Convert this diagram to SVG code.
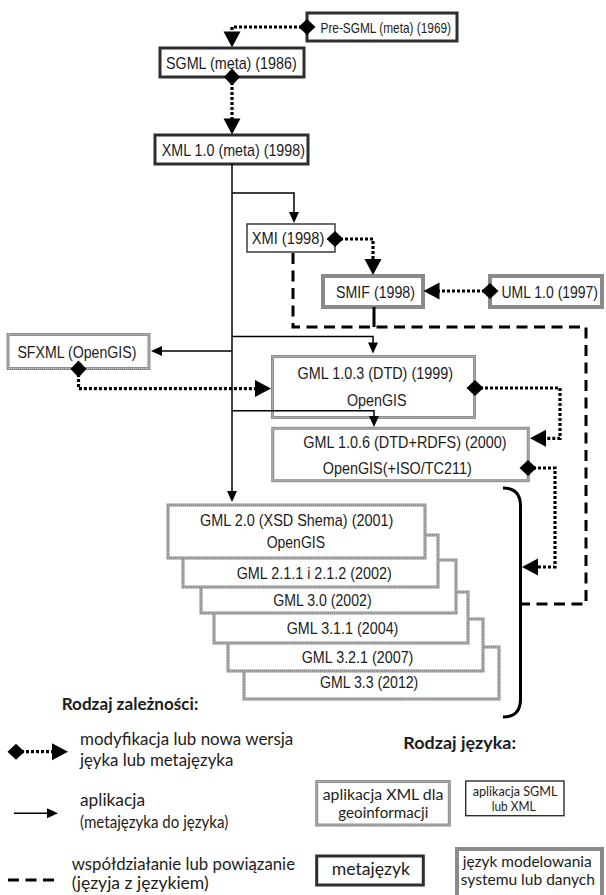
<svg xmlns="http://www.w3.org/2000/svg" width="606" height="895" viewBox="0 0 606 895">
  <style>
    .meta { fill: #fff; stroke: #2e2e2e; stroke-width: 3; }
    .app { fill: #fff; stroke: #2e2e2e; stroke-width: 1.4; }
    .geo { fill: #fff; stroke: #8e8e8e; stroke-width: 3; }
    .geo-tex { fill: none; stroke: #cfcfcf; stroke-width: 1; stroke-dasharray: 1 1; }
    .model { fill: #fff; stroke: #8a8a8a; stroke-width: 4; }
    .lbl { font-family: "Liberation Sans", Arial, sans-serif; font-size: 17px; fill: #1c1c1c; }
    .sm { font-size: 14.5px; }
    .leg { font-family: Lato, "Open Sans", sans-serif; font-size: 17px; fill: #1c1c1c; }
    .hd { font-weight: bold; }
    .k15 { font-size: 15.5px; }
    .k14 { font-size: 15px; }
    .k13 { font-size: 13.5px; }
    .dot { fill: none; stroke: #000; stroke-width: 3.2; stroke-dasharray: 3 2; }
    .sol { fill: none; stroke: #000; stroke-width: 1.5; }
    .dsh { fill: none; stroke: #000; stroke-width: 3; stroke-dasharray: 11 6.5; }
    .mod { marker-start: url(#dia); marker-end: url(#arrD); }
    .use { marker-end: url(#arrS); }
  </style>
  <defs>
    <marker id="dia" markerUnits="userSpaceOnUse" markerWidth="18" markerHeight="18" refX="8.5" refY="8" orient="auto" overflow="visible">
      <path d="M0,8 L8.5,0 L17,8 L8.5,16 Z" fill="#000"/>
    </marker>
    <marker id="arrD" markerUnits="userSpaceOnUse" markerWidth="18" markerHeight="18" refX="2" refY="8.5" orient="auto" overflow="visible">
      <path d="M0,0 L16,8.5 L0,17 Z" fill="#000"/>
    </marker>
    <marker id="arrS" markerUnits="userSpaceOnUse" markerWidth="12" markerHeight="12" refX="1" refY="5" orient="auto" overflow="visible">
      <path d="M0,0 L11,5 L0,10 Z" fill="#000"/>
    </marker>
  </defs>

  <!-- metalanguages -->
  <g id="n-presgml">
    <rect class="meta" x="307" y="13" width="150" height="28"/>
    <text class="lbl sm" x="320.5" y="32.5" textLength="130.5" lengthAdjust="spacingAndGlyphs">Pre-SGML (meta) (1969)</text>
  </g>
  <g id="n-sgml">
    <rect class="meta" x="160" y="48" width="144" height="29"/>
    <text class="lbl" x="166" y="68.5" textLength="130.7" lengthAdjust="spacingAndGlyphs">SGML (meta) (1986)</text>
  </g>
  <g id="n-xml">
    <rect class="meta" x="155" y="135" width="153" height="29"/>
    <text class="lbl" x="161.7" y="155.5" textLength="143.3" lengthAdjust="spacingAndGlyphs">XML 1.0 (meta) (1998)</text>
  </g>

  <!-- SGML / XML applications -->
  <g id="n-xmi">
    <rect class="app" x="247" y="224" width="88" height="28"/>
    <text class="lbl" x="251.7" y="244" textLength="72.6" lengthAdjust="spacingAndGlyphs">XMI (1998)</text>
  </g>

  <!-- modelling languages -->
  <g id="n-smif">
    <rect class="model" x="323" y="276" width="100" height="31"/>
    <text class="lbl" x="336" y="297.5" textLength="79" lengthAdjust="spacingAndGlyphs">SMIF (1998)</text>
  </g>
  <g id="n-uml">
    <rect class="model" x="490" y="276" width="112" height="31"/>
    <text class="lbl" x="501.5" y="297.5" textLength="96.5" lengthAdjust="spacingAndGlyphs">UML 1.0 (1997)</text>
  </g>

  <!-- XML applications for geoinformation -->
  <g id="n-sfxml">
    <rect class="geo" x="8" y="334.5" width="141" height="34"/>
    <rect class="geo-tex" x="8" y="334.5" width="141" height="34"/>
    <text class="lbl" x="17.4" y="357.5" textLength="119" lengthAdjust="spacingAndGlyphs">SFXML (OpenGIS)</text>
  </g>
  <g id="n-gml103">
    <rect class="geo" x="272.5" y="356.5" width="202" height="61"/>
    <rect class="geo-tex" x="272.5" y="356.5" width="202" height="61"/>
    <text class="lbl" x="297.6" y="379" textLength="155.4" lengthAdjust="spacingAndGlyphs">GML 1.0.3 (DTD) (1999)</text>
    <text class="lbl" x="347" y="405.5" textLength="59.6" lengthAdjust="spacingAndGlyphs">OpenGIS</text>
  </g>
  <g id="n-gml106">
    <rect class="geo" x="272.7" y="428.3" width="255.6" height="52.4"/>
    <rect class="geo-tex" x="272.7" y="428.3" width="255.6" height="52.4"/>
    <text class="lbl" x="303.3" y="447.7" textLength="203.3" lengthAdjust="spacingAndGlyphs">GML 1.0.6 (DTD+RDFS) (2000)</text>
    <text class="lbl" x="322.7" y="474.3" textLength="149" lengthAdjust="spacingAndGlyphs">OpenGIS(+ISO/TC211)</text>
  </g>

  <!-- GML version stack, back to front -->
  <g id="n-gml33">
    <rect class="geo" x="244" y="647" width="255" height="52"/>
    <rect class="geo-tex" x="244" y="647" width="255" height="52"/>
    <text class="lbl" x="320" y="688" textLength="98.3" lengthAdjust="spacingAndGlyphs">GML 3.3 (2012)</text>
  </g>
  <g id="n-gml321">
    <rect class="geo" x="228" y="619" width="255" height="52"/>
    <rect class="geo-tex" x="228" y="619" width="255" height="52"/>
    <text class="lbl" x="301.7" y="662.7" textLength="111.7" lengthAdjust="spacingAndGlyphs">GML 3.2.1 (2007)</text>
  </g>
  <g id="n-gml311">
    <rect class="geo" x="214" y="592" width="254" height="51"/>
    <rect class="geo-tex" x="214" y="592" width="254" height="51"/>
    <text class="lbl" x="286.7" y="634.3" textLength="111.7" lengthAdjust="spacingAndGlyphs">GML 3.1.1 (2004)</text>
  </g>
  <g id="n-gml30">
    <rect class="geo" x="201" y="560" width="255" height="53"/>
    <rect class="geo-tex" x="201" y="560" width="255" height="53"/>
    <text class="lbl" x="273.3" y="606" textLength="98.3" lengthAdjust="spacingAndGlyphs">GML 3.0 (2002)</text>
  </g>
  <g id="n-gml211">
    <rect class="geo" x="183" y="535" width="255" height="52"/>
    <rect class="geo-tex" x="183" y="535" width="255" height="52"/>
    <text class="lbl" x="236.7" y="579.3" textLength="155" lengthAdjust="spacingAndGlyphs">GML 2.1.1 i 2.1.2 (2002)</text>
  </g>
  <g id="n-gml20">
    <rect class="geo" x="168" y="505" width="257" height="53"/>
    <rect class="geo-tex" x="168" y="505" width="257" height="53"/>
    <text class="lbl" x="200" y="526" textLength="193.3" lengthAdjust="spacingAndGlyphs">GML 2.0 (XSD Shema) (2001)</text>
    <text class="lbl" x="266.7" y="547.7" textLength="58.3" lengthAdjust="spacingAndGlyphs">OpenGIS</text>
  </g>

  <!-- connectors -->
  <g id="connectors">
    <!-- application: metalanguage to language -->
    <path class="sol use" d="M232,164 V492"/>
    <path class="sol use" d="M232,193 H294 V213"/>
    <path class="sol use" d="M232,336.5 H373 V343.5"/>
    <path class="sol use" d="M232,351 H161"/>
    <path class="sol use" d="M232,410.7 H374 V417"/>

    <!-- modification / new version -->
    <path class="dot mod" d="M307,27 H232 V33.5"/>
    <path class="dot mod" d="M232,77 V120.5"/>
    <path class="dot mod" d="M335,239 H373 V261"/>
    <path class="dot mod" d="M490,291 H437.5"/>
    <path class="dot mod" d="M78.5,369 V388.6 H257"/>
    <path class="dot mod" d="M475,388 H560 V438.3 H544"/>
    <path class="dot mod" d="M528,468 H555 V567 H536"/>

    <!-- interoperation -->
    <path class="dsh" d="M293,253 V327 H586 V604 H521"/>
    <path fill="none" stroke="#000" stroke-width="3" d="M374,307 V327"/>

    <!-- bracket grouping GML 2.0 - 3.3 -->
    <path fill="none" stroke="#000" stroke-width="3" d="M503,488 Q520.5,488 520.5,506 V699 Q520.5,717 503,717"/>
  </g>

  <!-- legend -->
  <g id="legend-relations">
    <text class="leg hd" x="61.7" y="709.5" textLength="136.6" lengthAdjust="spacingAndGlyphs">Rodzaj zależności:</text>
    <path class="dot mod" d="M16,751.7 H54"/>
    <text class="leg" x="80" y="744.5" textLength="213.3" lengthAdjust="spacingAndGlyphs">modyfikacja lub nowa wersja</text>
    <text class="leg" x="80" y="765.5" textLength="153.3" lengthAdjust="spacingAndGlyphs">jęyka lub metajęzyka</text>
    <path class="sol use" d="M14,813.3 H48"/>
    <text class="leg" x="80" y="806" textLength="65" lengthAdjust="spacingAndGlyphs">aplikacja</text>
    <text class="leg" x="80" y="828" textLength="148.3" lengthAdjust="spacingAndGlyphs">(metajęzyka do języka)</text>
    <path class="dsh" d="M8,880 H54"/>
    <text class="leg" x="71.7" y="870" textLength="223.3" lengthAdjust="spacingAndGlyphs">współdziałanie lub powiązanie</text>
    <text class="leg" x="71.7" y="889" textLength="137" lengthAdjust="spacingAndGlyphs">(języja z językiem)</text>
  </g>
  <g id="legend-kinds">
    <text class="leg hd" x="403.3" y="749" textLength="112.7" lengthAdjust="spacingAndGlyphs">Rodzaj języka:</text>
    <g id="key-geo">
      <rect class="geo" x="316.7" y="781.5" width="132.6" height="43.5"/>
      <rect class="geo-tex" x="316.7" y="781.5" width="132.6" height="43.5"/>
      <text class="leg k15" x="322.7" y="800" textLength="120.6" lengthAdjust="spacingAndGlyphs">aplikacja XML dla</text>
      <text class="leg k15" x="338.3" y="817.5" textLength="90" lengthAdjust="spacingAndGlyphs">geoinformacji</text>
    </g>
    <g id="key-app">
      <rect class="app" x="465.7" y="781" width="98.3" height="34.7"/>
      <text class="leg k13" x="472.7" y="796" textLength="84.7" lengthAdjust="spacingAndGlyphs">aplikacja SGML</text>
      <text class="leg k13" x="491.7" y="810.5" textLength="44" lengthAdjust="spacingAndGlyphs">lub XML</text>
    </g>
    <g id="key-meta">
      <rect class="meta" x="316.7" y="856" width="106.6" height="29"/>
      <text class="leg" x="331.7" y="875" textLength="78.3" lengthAdjust="spacingAndGlyphs">metajęzyk</text>
    </g>
    <g id="key-model">
      <rect class="model" x="457" y="849" width="145" height="60"/>
      <text class="leg k14" x="462.7" y="866.5" textLength="129" lengthAdjust="spacingAndGlyphs">język modelowania</text>
      <text class="leg k14" x="460.7" y="885" textLength="134.3" lengthAdjust="spacingAndGlyphs">systemu lub danych</text>
    </g>
  </g>
</svg>
